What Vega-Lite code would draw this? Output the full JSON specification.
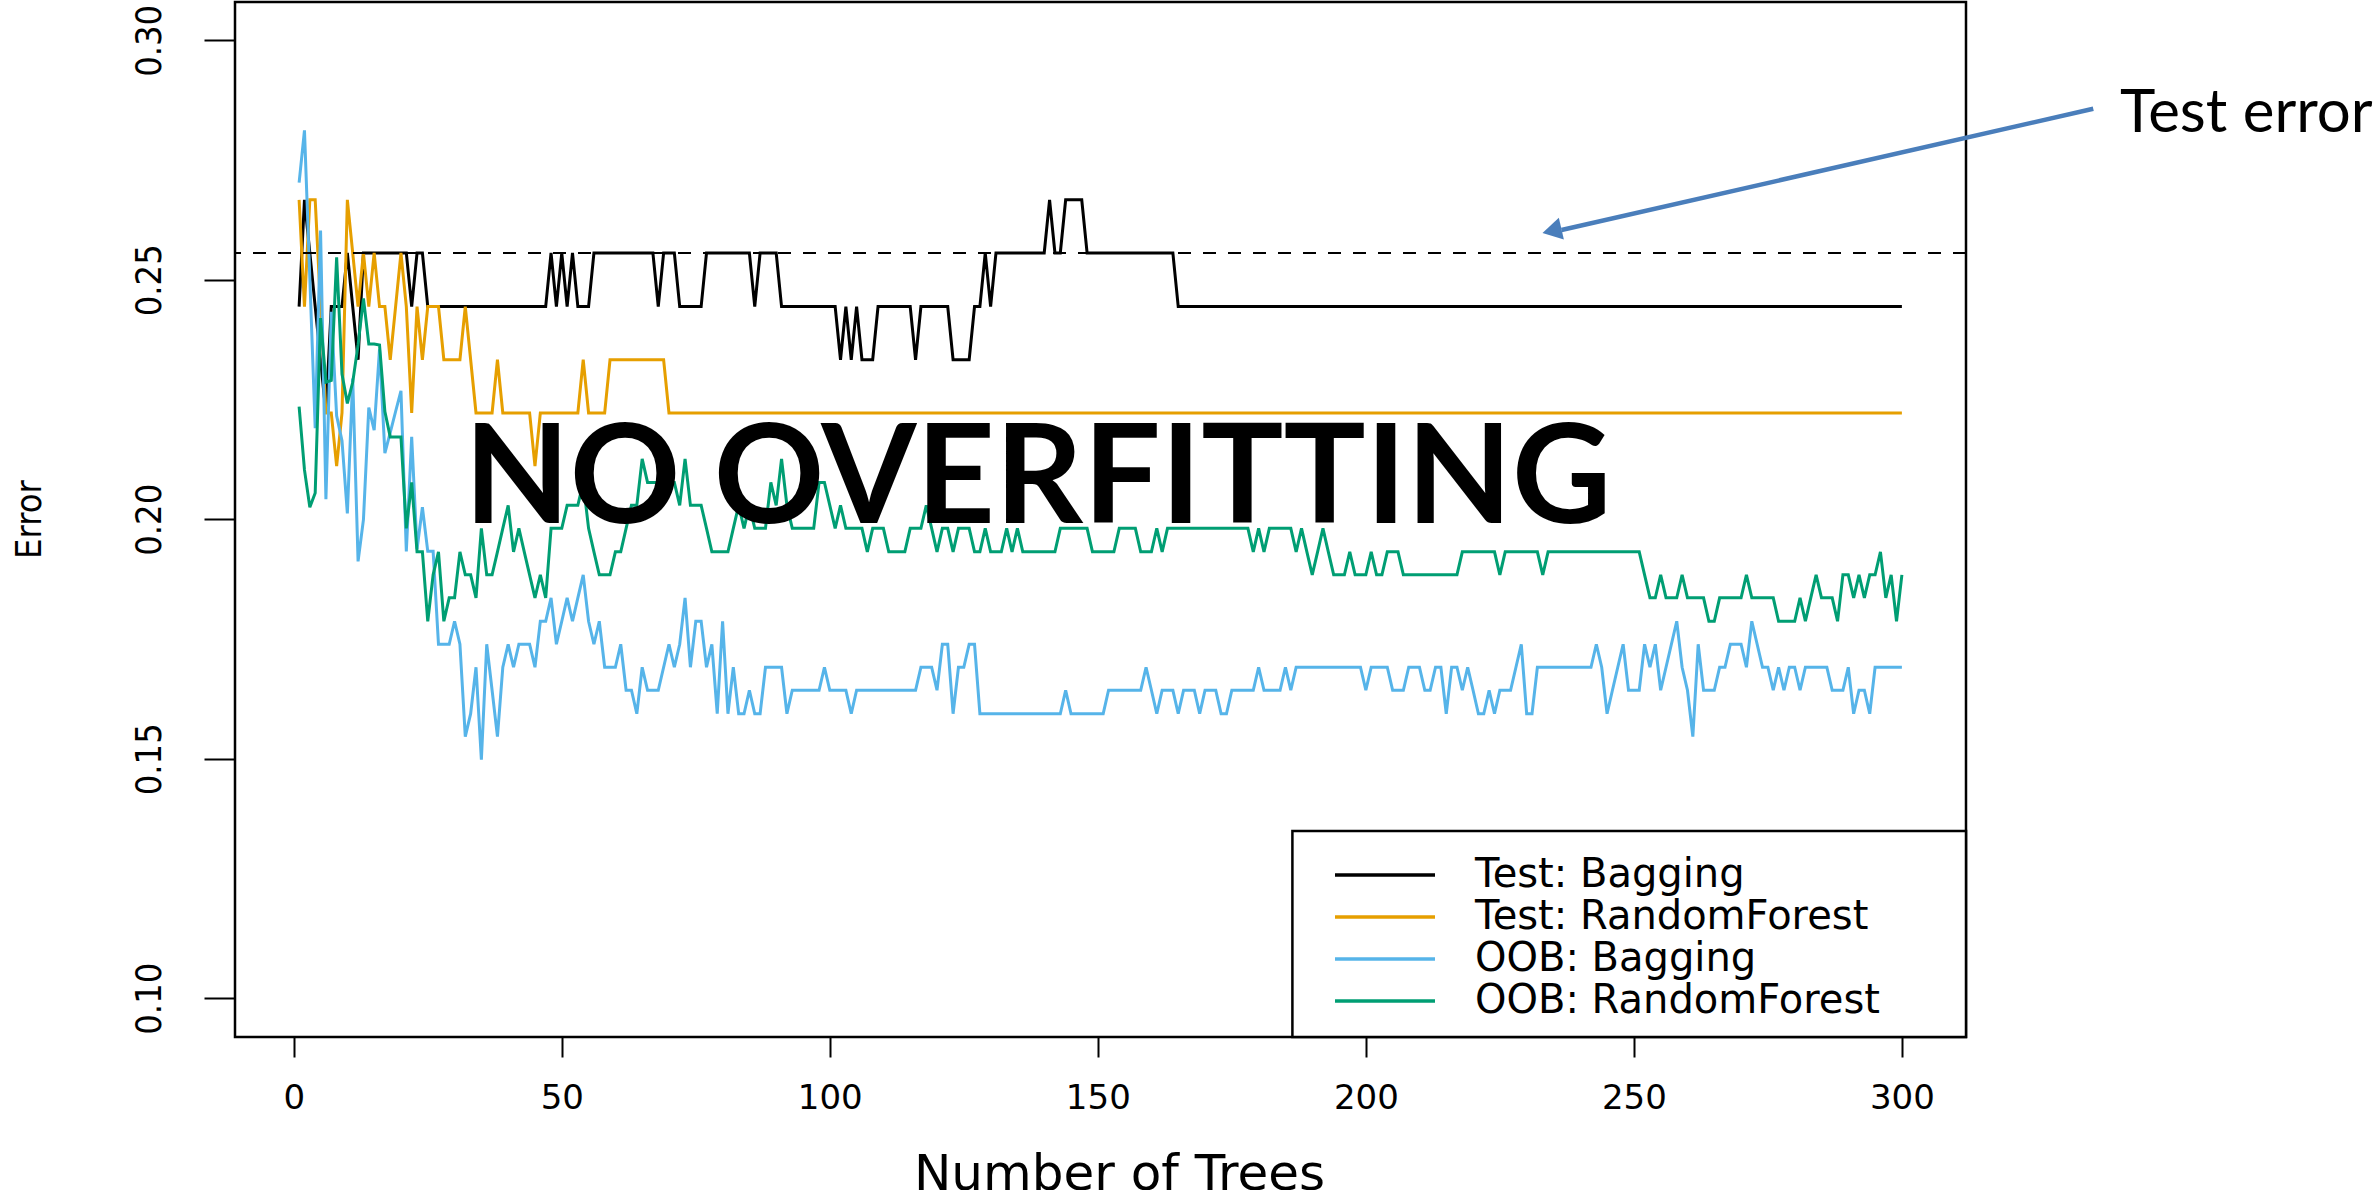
{
  "$schema": "https://vega.github.io/schema/vega-lite/v6.json",
  "width": 1731,
  "height": 1035,
  "autosize": "none",
  "padding": {"left": 235, "top": 2, "right": 413, "bottom": 153},
  "background": "white",
  "config": {
    "font": "DejaVu Sans",
    "view": {"stroke": "black", "strokeWidth": 2.5}
  },
  "datasets": {
    "arrow": [
      {"trees": 335.7, "error": 0.2857},
      {"trees": 236.5, "error": 0.2604}
    ],
    "errors": [
      {"trees":1,"test_bag":0.2444,"test_rf":0.2667,"oob_bag":0.2703,"oob_rf":0.2235},
      {"trees":2,"test_bag":0.2667,"test_rf":0.2444,"oob_bag":0.2812,"oob_rf":0.2103},
      {"trees":3,"test_bag":0.2556,"test_rf":0.2667,"oob_bag":0.2503,"oob_rf":0.2025},
      {"trees":4,"test_bag":0.2444,"test_rf":0.2667,"oob_bag":0.2190,"oob_rf":0.2055},
      {"trees":5,"test_bag":0.2333,"test_rf":0.2444,"oob_bag":0.2603,"oob_rf":0.2420},
      {"trees":6,"test_bag":0.2222,"test_rf":0.2222,"oob_bag":0.2042,"oob_rf":0.2286},
      {"trees":7,"test_bag":0.2444,"test_rf":0.2222,"oob_bag":0.2433,"oob_rf":0.2290},
      {"trees":8,"test_bag":0.2444,"test_rf":0.2111,"oob_bag":0.2216,"oob_rf":0.2547},
      {"trees":9,"test_bag":0.2444,"test_rf":0.2222,"oob_bag":0.2164,"oob_rf":0.2303},
      {"trees":10,"test_bag":0.2556,"test_rf":0.2667,"oob_bag":0.2012,"oob_rf":0.2242},
      {"trees":11,"test_bag":0.2444,"test_rf":0.2556,"oob_bag":0.2294,"oob_rf":0.2286},
      {"trees":12,"test_bag":0.2333,"test_rf":0.2444,"oob_bag":0.1912,"oob_rf":0.2364},
      {"trees":13,"test_bag":0.2556,"test_rf":0.2556,"oob_bag":0.1999,"oob_rf":0.2461},
      {"trees":14,"test_bag":0.2556,"test_rf":0.2444,"oob_bag":0.2233,"oob_rf":0.2366},
      {"trees":15,"test_bag":0.2556,"test_rf":0.2556,"oob_bag":0.2186,"oob_rf":0.2366},
      {"trees":16,"test_bag":0.2556,"test_rf":0.2444,"oob_bag":0.2355,"oob_rf":0.2364},
      {"trees":17,"test_bag":0.2556,"test_rf":0.2444,"oob_bag":0.2138,"oob_rf":0.2225},
      {"trees":18,"test_bag":0.2556,"test_rf":0.2333,"oob_bag":0.2181,"oob_rf":0.2172},
      {"trees":19,"test_bag":0.2556,"test_rf":0.2444,"oob_bag":0.2225,"oob_rf":0.2172},
      {"trees":20,"test_bag":0.2556,"test_rf":0.2556,"oob_bag":0.2268,"oob_rf":0.2172},
      {"trees":21,"test_bag":0.2556,"test_rf":0.2444,"oob_bag":0.1933,"oob_rf":0.1981},
      {"trees":22,"test_bag":0.2444,"test_rf":0.2222,"oob_bag":0.2172,"oob_rf":0.2077},
      {"trees":23,"test_bag":0.2556,"test_rf":0.2444,"oob_bag":0.1938,"oob_rf":0.1932},
      {"trees":24,"test_bag":0.2556,"test_rf":0.2333,"oob_bag":0.2025,"oob_rf":0.1932},
      {"trees":25,"test_bag":0.2444,"test_rf":0.2444,"oob_bag":0.1933,"oob_rf":0.1787},
      {"trees":26,"test_bag":0.2444,"test_rf":0.2444,"oob_bag":0.1933,"oob_rf":0.1884},
      {"trees":27,"test_bag":0.2444,"test_rf":0.2444,"oob_bag":0.1739,"oob_rf":0.1932},
      {"trees":28,"test_bag":0.2444,"test_rf":0.2333,"oob_bag":0.1739,"oob_rf":0.1787},
      {"trees":29,"test_bag":0.2444,"test_rf":0.2333,"oob_bag":0.1739,"oob_rf":0.1836},
      {"trees":30,"test_bag":0.2444,"test_rf":0.2333,"oob_bag":0.1787,"oob_rf":0.1836},
      {"trees":31,"test_bag":0.2444,"test_rf":0.2333,"oob_bag":0.1739,"oob_rf":0.1932},
      {"trees":32,"test_bag":0.2444,"test_rf":0.2444,"oob_bag":0.1546,"oob_rf":0.1884},
      {"trees":33,"test_bag":0.2444,"test_rf":0.2333,"oob_bag":0.1594,"oob_rf":0.1884},
      {"trees":34,"test_bag":0.2444,"test_rf":0.2222,"oob_bag":0.1691,"oob_rf":0.1836},
      {"trees":35,"test_bag":0.2444,"test_rf":0.2222,"oob_bag":0.1498,"oob_rf":0.1981},
      {"trees":36,"test_bag":0.2444,"test_rf":0.2222,"oob_bag":0.1739,"oob_rf":0.1884},
      {"trees":37,"test_bag":0.2444,"test_rf":0.2222,"oob_bag":0.1643,"oob_rf":0.1884},
      {"trees":38,"test_bag":0.2444,"test_rf":0.2333,"oob_bag":0.1546,"oob_rf":0.1932},
      {"trees":39,"test_bag":0.2444,"test_rf":0.2222,"oob_bag":0.1691,"oob_rf":0.1981},
      {"trees":40,"test_bag":0.2444,"test_rf":0.2222,"oob_bag":0.1739,"oob_rf":0.2029},
      {"trees":41,"test_bag":0.2444,"test_rf":0.2222,"oob_bag":0.1691,"oob_rf":0.1932},
      {"trees":42,"test_bag":0.2444,"test_rf":0.2222,"oob_bag":0.1739,"oob_rf":0.1981},
      {"trees":43,"test_bag":0.2444,"test_rf":0.2222,"oob_bag":0.1739,"oob_rf":0.1932},
      {"trees":44,"test_bag":0.2444,"test_rf":0.2222,"oob_bag":0.1739,"oob_rf":0.1884},
      {"trees":45,"test_bag":0.2444,"test_rf":0.2111,"oob_bag":0.1691,"oob_rf":0.1836},
      {"trees":46,"test_bag":0.2444,"test_rf":0.2222,"oob_bag":0.1787,"oob_rf":0.1884},
      {"trees":47,"test_bag":0.2444,"test_rf":0.2222,"oob_bag":0.1787,"oob_rf":0.1836},
      {"trees":48,"test_bag":0.2556,"test_rf":0.2222,"oob_bag":0.1836,"oob_rf":0.1981},
      {"trees":49,"test_bag":0.2444,"test_rf":0.2222,"oob_bag":0.1739,"oob_rf":0.1981},
      {"trees":50,"test_bag":0.2556,"test_rf":0.2222,"oob_bag":0.1787,"oob_rf":0.1981},
      {"trees":51,"test_bag":0.2444,"test_rf":0.2222,"oob_bag":0.1836,"oob_rf":0.2029},
      {"trees":52,"test_bag":0.2556,"test_rf":0.2222,"oob_bag":0.1787,"oob_rf":0.2029},
      {"trees":53,"test_bag":0.2444,"test_rf":0.2222,"oob_bag":0.1836,"oob_rf":0.2029},
      {"trees":54,"test_bag":0.2444,"test_rf":0.2333,"oob_bag":0.1884,"oob_rf":0.2077},
      {"trees":55,"test_bag":0.2444,"test_rf":0.2222,"oob_bag":0.1787,"oob_rf":0.1981},
      {"trees":56,"test_bag":0.2556,"test_rf":0.2222,"oob_bag":0.1739,"oob_rf":0.1932},
      {"trees":57,"test_bag":0.2556,"test_rf":0.2222,"oob_bag":0.1787,"oob_rf":0.1884},
      {"trees":58,"test_bag":0.2556,"test_rf":0.2222,"oob_bag":0.1691,"oob_rf":0.1884},
      {"trees":59,"test_bag":0.2556,"test_rf":0.2333,"oob_bag":0.1691,"oob_rf":0.1884},
      {"trees":60,"test_bag":0.2556,"test_rf":0.2333,"oob_bag":0.1691,"oob_rf":0.1932},
      {"trees":61,"test_bag":0.2556,"test_rf":0.2333,"oob_bag":0.1739,"oob_rf":0.1932},
      {"trees":62,"test_bag":0.2556,"test_rf":0.2333,"oob_bag":0.1643,"oob_rf":0.1981},
      {"trees":63,"test_bag":0.2556,"test_rf":0.2333,"oob_bag":0.1643,"oob_rf":0.2029},
      {"trees":64,"test_bag":0.2556,"test_rf":0.2333,"oob_bag":0.1594,"oob_rf":0.2029},
      {"trees":65,"test_bag":0.2556,"test_rf":0.2333,"oob_bag":0.1691,"oob_rf":0.2126},
      {"trees":66,"test_bag":0.2556,"test_rf":0.2333,"oob_bag":0.1643,"oob_rf":0.2077},
      {"trees":67,"test_bag":0.2556,"test_rf":0.2333,"oob_bag":0.1643,"oob_rf":0.2077},
      {"trees":68,"test_bag":0.2444,"test_rf":0.2333,"oob_bag":0.1643,"oob_rf":0.2077},
      {"trees":69,"test_bag":0.2556,"test_rf":0.2333,"oob_bag":0.1691,"oob_rf":0.2077},
      {"trees":70,"test_bag":0.2556,"test_rf":0.2222,"oob_bag":0.1739,"oob_rf":0.2077},
      {"trees":71,"test_bag":0.2556,"test_rf":0.2222,"oob_bag":0.1691,"oob_rf":0.2077},
      {"trees":72,"test_bag":0.2444,"test_rf":0.2222,"oob_bag":0.1739,"oob_rf":0.2029},
      {"trees":73,"test_bag":0.2444,"test_rf":0.2222,"oob_bag":0.1836,"oob_rf":0.2126},
      {"trees":74,"test_bag":0.2444,"test_rf":0.2222,"oob_bag":0.1691,"oob_rf":0.2029},
      {"trees":75,"test_bag":0.2444,"test_rf":0.2222,"oob_bag":0.1787,"oob_rf":0.2029},
      {"trees":76,"test_bag":0.2444,"test_rf":0.2222,"oob_bag":0.1787,"oob_rf":0.2029},
      {"trees":77,"test_bag":0.2556,"test_rf":0.2222,"oob_bag":0.1691,"oob_rf":0.1981},
      {"trees":78,"test_bag":0.2556,"test_rf":0.2222,"oob_bag":0.1739,"oob_rf":0.1932},
      {"trees":79,"test_bag":0.2556,"test_rf":0.2222,"oob_bag":0.1594,"oob_rf":0.1932},
      {"trees":80,"test_bag":0.2556,"test_rf":0.2222,"oob_bag":0.1787,"oob_rf":0.1932},
      {"trees":81,"test_bag":0.2556,"test_rf":0.2222,"oob_bag":0.1594,"oob_rf":0.1932},
      {"trees":82,"test_bag":0.2556,"test_rf":0.2222,"oob_bag":0.1691,"oob_rf":0.1981},
      {"trees":83,"test_bag":0.2556,"test_rf":0.2222,"oob_bag":0.1594,"oob_rf":0.2029},
      {"trees":84,"test_bag":0.2556,"test_rf":0.2222,"oob_bag":0.1594,"oob_rf":0.1981},
      {"trees":85,"test_bag":0.2556,"test_rf":0.2222,"oob_bag":0.1643,"oob_rf":0.2029},
      {"trees":86,"test_bag":0.2444,"test_rf":0.2222,"oob_bag":0.1594,"oob_rf":0.1981},
      {"trees":87,"test_bag":0.2556,"test_rf":0.2222,"oob_bag":0.1594,"oob_rf":0.1981},
      {"trees":88,"test_bag":0.2556,"test_rf":0.2222,"oob_bag":0.1691,"oob_rf":0.1981},
      {"trees":89,"test_bag":0.2556,"test_rf":0.2222,"oob_bag":0.1691,"oob_rf":0.2077},
      {"trees":90,"test_bag":0.2556,"test_rf":0.2222,"oob_bag":0.1691,"oob_rf":0.2029},
      {"trees":91,"test_bag":0.2444,"test_rf":0.2222,"oob_bag":0.1691,"oob_rf":0.2126},
      {"trees":92,"test_bag":0.2444,"test_rf":0.2222,"oob_bag":0.1594,"oob_rf":0.2029},
      {"trees":93,"test_bag":0.2444,"test_rf":0.2222,"oob_bag":0.1643,"oob_rf":0.1981},
      {"trees":94,"test_bag":0.2444,"test_rf":0.2222,"oob_bag":0.1643,"oob_rf":0.1981},
      {"trees":95,"test_bag":0.2444,"test_rf":0.2222,"oob_bag":0.1643,"oob_rf":0.1981},
      {"trees":96,"test_bag":0.2444,"test_rf":0.2222,"oob_bag":0.1643,"oob_rf":0.1981},
      {"trees":97,"test_bag":0.2444,"test_rf":0.2222,"oob_bag":0.1643,"oob_rf":0.1981},
      {"trees":98,"test_bag":0.2444,"test_rf":0.2222,"oob_bag":0.1643,"oob_rf":0.2077},
      {"trees":99,"test_bag":0.2444,"test_rf":0.2222,"oob_bag":0.1691,"oob_rf":0.2077},
      {"trees":100,"test_bag":0.2444,"test_rf":0.2222,"oob_bag":0.1643,"oob_rf":0.2029},
      {"trees":101,"test_bag":0.2444,"test_rf":0.2222,"oob_bag":0.1643,"oob_rf":0.1981},
      {"trees":102,"test_bag":0.2333,"test_rf":0.2222,"oob_bag":0.1643,"oob_rf":0.2029},
      {"trees":103,"test_bag":0.2444,"test_rf":0.2222,"oob_bag":0.1643,"oob_rf":0.1981},
      {"trees":104,"test_bag":0.2333,"test_rf":0.2222,"oob_bag":0.1594,"oob_rf":0.1981},
      {"trees":105,"test_bag":0.2444,"test_rf":0.2222,"oob_bag":0.1643,"oob_rf":0.1981},
      {"trees":106,"test_bag":0.2333,"test_rf":0.2222,"oob_bag":0.1643,"oob_rf":0.1981},
      {"trees":107,"test_bag":0.2333,"test_rf":0.2222,"oob_bag":0.1643,"oob_rf":0.1932},
      {"trees":108,"test_bag":0.2333,"test_rf":0.2222,"oob_bag":0.1643,"oob_rf":0.1981},
      {"trees":109,"test_bag":0.2444,"test_rf":0.2222,"oob_bag":0.1643,"oob_rf":0.1981},
      {"trees":110,"test_bag":0.2444,"test_rf":0.2222,"oob_bag":0.1643,"oob_rf":0.1981},
      {"trees":111,"test_bag":0.2444,"test_rf":0.2222,"oob_bag":0.1643,"oob_rf":0.1932},
      {"trees":112,"test_bag":0.2444,"test_rf":0.2222,"oob_bag":0.1643,"oob_rf":0.1932},
      {"trees":113,"test_bag":0.2444,"test_rf":0.2222,"oob_bag":0.1643,"oob_rf":0.1932},
      {"trees":114,"test_bag":0.2444,"test_rf":0.2222,"oob_bag":0.1643,"oob_rf":0.1932},
      {"trees":115,"test_bag":0.2444,"test_rf":0.2222,"oob_bag":0.1643,"oob_rf":0.1981},
      {"trees":116,"test_bag":0.2333,"test_rf":0.2222,"oob_bag":0.1643,"oob_rf":0.1981},
      {"trees":117,"test_bag":0.2444,"test_rf":0.2222,"oob_bag":0.1691,"oob_rf":0.1981},
      {"trees":118,"test_bag":0.2444,"test_rf":0.2222,"oob_bag":0.1691,"oob_rf":0.2029},
      {"trees":119,"test_bag":0.2444,"test_rf":0.2222,"oob_bag":0.1691,"oob_rf":0.1981},
      {"trees":120,"test_bag":0.2444,"test_rf":0.2222,"oob_bag":0.1643,"oob_rf":0.1932},
      {"trees":121,"test_bag":0.2444,"test_rf":0.2222,"oob_bag":0.1739,"oob_rf":0.1981},
      {"trees":122,"test_bag":0.2444,"test_rf":0.2222,"oob_bag":0.1739,"oob_rf":0.1981},
      {"trees":123,"test_bag":0.2333,"test_rf":0.2222,"oob_bag":0.1594,"oob_rf":0.1932},
      {"trees":124,"test_bag":0.2333,"test_rf":0.2222,"oob_bag":0.1691,"oob_rf":0.1981},
      {"trees":125,"test_bag":0.2333,"test_rf":0.2222,"oob_bag":0.1691,"oob_rf":0.1981},
      {"trees":126,"test_bag":0.2333,"test_rf":0.2222,"oob_bag":0.1739,"oob_rf":0.1981},
      {"trees":127,"test_bag":0.2444,"test_rf":0.2222,"oob_bag":0.1739,"oob_rf":0.1932},
      {"trees":128,"test_bag":0.2444,"test_rf":0.2222,"oob_bag":0.1594,"oob_rf":0.1932},
      {"trees":129,"test_bag":0.2556,"test_rf":0.2222,"oob_bag":0.1594,"oob_rf":0.1981},
      {"trees":130,"test_bag":0.2444,"test_rf":0.2222,"oob_bag":0.1594,"oob_rf":0.1932},
      {"trees":131,"test_bag":0.2556,"test_rf":0.2222,"oob_bag":0.1594,"oob_rf":0.1932},
      {"trees":132,"test_bag":0.2556,"test_rf":0.2222,"oob_bag":0.1594,"oob_rf":0.1932},
      {"trees":133,"test_bag":0.2556,"test_rf":0.2222,"oob_bag":0.1594,"oob_rf":0.1981},
      {"trees":134,"test_bag":0.2556,"test_rf":0.2222,"oob_bag":0.1594,"oob_rf":0.1932},
      {"trees":135,"test_bag":0.2556,"test_rf":0.2222,"oob_bag":0.1594,"oob_rf":0.1981},
      {"trees":136,"test_bag":0.2556,"test_rf":0.2222,"oob_bag":0.1594,"oob_rf":0.1932},
      {"trees":137,"test_bag":0.2556,"test_rf":0.2222,"oob_bag":0.1594,"oob_rf":0.1932},
      {"trees":138,"test_bag":0.2556,"test_rf":0.2222,"oob_bag":0.1594,"oob_rf":0.1932},
      {"trees":139,"test_bag":0.2556,"test_rf":0.2222,"oob_bag":0.1594,"oob_rf":0.1932},
      {"trees":140,"test_bag":0.2556,"test_rf":0.2222,"oob_bag":0.1594,"oob_rf":0.1932},
      {"trees":141,"test_bag":0.2667,"test_rf":0.2222,"oob_bag":0.1594,"oob_rf":0.1932},
      {"trees":142,"test_bag":0.2556,"test_rf":0.2222,"oob_bag":0.1594,"oob_rf":0.1932},
      {"trees":143,"test_bag":0.2556,"test_rf":0.2222,"oob_bag":0.1594,"oob_rf":0.1981},
      {"trees":144,"test_bag":0.2667,"test_rf":0.2222,"oob_bag":0.1643,"oob_rf":0.1981},
      {"trees":145,"test_bag":0.2667,"test_rf":0.2222,"oob_bag":0.1594,"oob_rf":0.1981},
      {"trees":146,"test_bag":0.2667,"test_rf":0.2222,"oob_bag":0.1594,"oob_rf":0.1981},
      {"trees":147,"test_bag":0.2667,"test_rf":0.2222,"oob_bag":0.1594,"oob_rf":0.1981},
      {"trees":148,"test_bag":0.2556,"test_rf":0.2222,"oob_bag":0.1594,"oob_rf":0.1981},
      {"trees":149,"test_bag":0.2556,"test_rf":0.2222,"oob_bag":0.1594,"oob_rf":0.1932},
      {"trees":150,"test_bag":0.2556,"test_rf":0.2222,"oob_bag":0.1594,"oob_rf":0.1932},
      {"trees":151,"test_bag":0.2556,"test_rf":0.2222,"oob_bag":0.1594,"oob_rf":0.1932},
      {"trees":152,"test_bag":0.2556,"test_rf":0.2222,"oob_bag":0.1643,"oob_rf":0.1932},
      {"trees":153,"test_bag":0.2556,"test_rf":0.2222,"oob_bag":0.1643,"oob_rf":0.1932},
      {"trees":154,"test_bag":0.2556,"test_rf":0.2222,"oob_bag":0.1643,"oob_rf":0.1981},
      {"trees":155,"test_bag":0.2556,"test_rf":0.2222,"oob_bag":0.1643,"oob_rf":0.1981},
      {"trees":156,"test_bag":0.2556,"test_rf":0.2222,"oob_bag":0.1643,"oob_rf":0.1981},
      {"trees":157,"test_bag":0.2556,"test_rf":0.2222,"oob_bag":0.1643,"oob_rf":0.1981},
      {"trees":158,"test_bag":0.2556,"test_rf":0.2222,"oob_bag":0.1643,"oob_rf":0.1932},
      {"trees":159,"test_bag":0.2556,"test_rf":0.2222,"oob_bag":0.1691,"oob_rf":0.1932},
      {"trees":160,"test_bag":0.2556,"test_rf":0.2222,"oob_bag":0.1643,"oob_rf":0.1932},
      {"trees":161,"test_bag":0.2556,"test_rf":0.2222,"oob_bag":0.1594,"oob_rf":0.1981},
      {"trees":162,"test_bag":0.2556,"test_rf":0.2222,"oob_bag":0.1643,"oob_rf":0.1932},
      {"trees":163,"test_bag":0.2556,"test_rf":0.2222,"oob_bag":0.1643,"oob_rf":0.1981},
      {"trees":164,"test_bag":0.2556,"test_rf":0.2222,"oob_bag":0.1643,"oob_rf":0.1981},
      {"trees":165,"test_bag":0.2444,"test_rf":0.2222,"oob_bag":0.1594,"oob_rf":0.1981},
      {"trees":166,"test_bag":0.2444,"test_rf":0.2222,"oob_bag":0.1643,"oob_rf":0.1981},
      {"trees":167,"test_bag":0.2444,"test_rf":0.2222,"oob_bag":0.1643,"oob_rf":0.1981},
      {"trees":168,"test_bag":0.2444,"test_rf":0.2222,"oob_bag":0.1643,"oob_rf":0.1981},
      {"trees":169,"test_bag":0.2444,"test_rf":0.2222,"oob_bag":0.1594,"oob_rf":0.1981},
      {"trees":170,"test_bag":0.2444,"test_rf":0.2222,"oob_bag":0.1643,"oob_rf":0.1981},
      {"trees":171,"test_bag":0.2444,"test_rf":0.2222,"oob_bag":0.1643,"oob_rf":0.1981},
      {"trees":172,"test_bag":0.2444,"test_rf":0.2222,"oob_bag":0.1643,"oob_rf":0.1981},
      {"trees":173,"test_bag":0.2444,"test_rf":0.2222,"oob_bag":0.1594,"oob_rf":0.1981},
      {"trees":174,"test_bag":0.2444,"test_rf":0.2222,"oob_bag":0.1594,"oob_rf":0.1981},
      {"trees":175,"test_bag":0.2444,"test_rf":0.2222,"oob_bag":0.1643,"oob_rf":0.1981},
      {"trees":176,"test_bag":0.2444,"test_rf":0.2222,"oob_bag":0.1643,"oob_rf":0.1981},
      {"trees":177,"test_bag":0.2444,"test_rf":0.2222,"oob_bag":0.1643,"oob_rf":0.1981},
      {"trees":178,"test_bag":0.2444,"test_rf":0.2222,"oob_bag":0.1643,"oob_rf":0.1981},
      {"trees":179,"test_bag":0.2444,"test_rf":0.2222,"oob_bag":0.1643,"oob_rf":0.1932},
      {"trees":180,"test_bag":0.2444,"test_rf":0.2222,"oob_bag":0.1691,"oob_rf":0.1981},
      {"trees":181,"test_bag":0.2444,"test_rf":0.2222,"oob_bag":0.1643,"oob_rf":0.1932},
      {"trees":182,"test_bag":0.2444,"test_rf":0.2222,"oob_bag":0.1643,"oob_rf":0.1981},
      {"trees":183,"test_bag":0.2444,"test_rf":0.2222,"oob_bag":0.1643,"oob_rf":0.1981},
      {"trees":184,"test_bag":0.2444,"test_rf":0.2222,"oob_bag":0.1643,"oob_rf":0.1981},
      {"trees":185,"test_bag":0.2444,"test_rf":0.2222,"oob_bag":0.1691,"oob_rf":0.1981},
      {"trees":186,"test_bag":0.2444,"test_rf":0.2222,"oob_bag":0.1643,"oob_rf":0.1981},
      {"trees":187,"test_bag":0.2444,"test_rf":0.2222,"oob_bag":0.1691,"oob_rf":0.1932},
      {"trees":188,"test_bag":0.2444,"test_rf":0.2222,"oob_bag":0.1691,"oob_rf":0.1981},
      {"trees":189,"test_bag":0.2444,"test_rf":0.2222,"oob_bag":0.1691,"oob_rf":0.1932},
      {"trees":190,"test_bag":0.2444,"test_rf":0.2222,"oob_bag":0.1691,"oob_rf":0.1884},
      {"trees":191,"test_bag":0.2444,"test_rf":0.2222,"oob_bag":0.1691,"oob_rf":0.1932},
      {"trees":192,"test_bag":0.2444,"test_rf":0.2222,"oob_bag":0.1691,"oob_rf":0.1981},
      {"trees":193,"test_bag":0.2444,"test_rf":0.2222,"oob_bag":0.1691,"oob_rf":0.1932},
      {"trees":194,"test_bag":0.2444,"test_rf":0.2222,"oob_bag":0.1691,"oob_rf":0.1884},
      {"trees":195,"test_bag":0.2444,"test_rf":0.2222,"oob_bag":0.1691,"oob_rf":0.1884},
      {"trees":196,"test_bag":0.2444,"test_rf":0.2222,"oob_bag":0.1691,"oob_rf":0.1884},
      {"trees":197,"test_bag":0.2444,"test_rf":0.2222,"oob_bag":0.1691,"oob_rf":0.1932},
      {"trees":198,"test_bag":0.2444,"test_rf":0.2222,"oob_bag":0.1691,"oob_rf":0.1884},
      {"trees":199,"test_bag":0.2444,"test_rf":0.2222,"oob_bag":0.1691,"oob_rf":0.1884},
      {"trees":200,"test_bag":0.2444,"test_rf":0.2222,"oob_bag":0.1643,"oob_rf":0.1884},
      {"trees":201,"test_bag":0.2444,"test_rf":0.2222,"oob_bag":0.1691,"oob_rf":0.1932},
      {"trees":202,"test_bag":0.2444,"test_rf":0.2222,"oob_bag":0.1691,"oob_rf":0.1884},
      {"trees":203,"test_bag":0.2444,"test_rf":0.2222,"oob_bag":0.1691,"oob_rf":0.1884},
      {"trees":204,"test_bag":0.2444,"test_rf":0.2222,"oob_bag":0.1691,"oob_rf":0.1932},
      {"trees":205,"test_bag":0.2444,"test_rf":0.2222,"oob_bag":0.1643,"oob_rf":0.1932},
      {"trees":206,"test_bag":0.2444,"test_rf":0.2222,"oob_bag":0.1643,"oob_rf":0.1932},
      {"trees":207,"test_bag":0.2444,"test_rf":0.2222,"oob_bag":0.1643,"oob_rf":0.1884},
      {"trees":208,"test_bag":0.2444,"test_rf":0.2222,"oob_bag":0.1691,"oob_rf":0.1884},
      {"trees":209,"test_bag":0.2444,"test_rf":0.2222,"oob_bag":0.1691,"oob_rf":0.1884},
      {"trees":210,"test_bag":0.2444,"test_rf":0.2222,"oob_bag":0.1691,"oob_rf":0.1884},
      {"trees":211,"test_bag":0.2444,"test_rf":0.2222,"oob_bag":0.1643,"oob_rf":0.1884},
      {"trees":212,"test_bag":0.2444,"test_rf":0.2222,"oob_bag":0.1643,"oob_rf":0.1884},
      {"trees":213,"test_bag":0.2444,"test_rf":0.2222,"oob_bag":0.1691,"oob_rf":0.1884},
      {"trees":214,"test_bag":0.2444,"test_rf":0.2222,"oob_bag":0.1691,"oob_rf":0.1884},
      {"trees":215,"test_bag":0.2444,"test_rf":0.2222,"oob_bag":0.1594,"oob_rf":0.1884},
      {"trees":216,"test_bag":0.2444,"test_rf":0.2222,"oob_bag":0.1691,"oob_rf":0.1884},
      {"trees":217,"test_bag":0.2444,"test_rf":0.2222,"oob_bag":0.1691,"oob_rf":0.1884},
      {"trees":218,"test_bag":0.2444,"test_rf":0.2222,"oob_bag":0.1643,"oob_rf":0.1932},
      {"trees":219,"test_bag":0.2444,"test_rf":0.2222,"oob_bag":0.1691,"oob_rf":0.1932},
      {"trees":220,"test_bag":0.2444,"test_rf":0.2222,"oob_bag":0.1643,"oob_rf":0.1932},
      {"trees":221,"test_bag":0.2444,"test_rf":0.2222,"oob_bag":0.1594,"oob_rf":0.1932},
      {"trees":222,"test_bag":0.2444,"test_rf":0.2222,"oob_bag":0.1594,"oob_rf":0.1932},
      {"trees":223,"test_bag":0.2444,"test_rf":0.2222,"oob_bag":0.1643,"oob_rf":0.1932},
      {"trees":224,"test_bag":0.2444,"test_rf":0.2222,"oob_bag":0.1594,"oob_rf":0.1932},
      {"trees":225,"test_bag":0.2444,"test_rf":0.2222,"oob_bag":0.1643,"oob_rf":0.1884},
      {"trees":226,"test_bag":0.2444,"test_rf":0.2222,"oob_bag":0.1643,"oob_rf":0.1932},
      {"trees":227,"test_bag":0.2444,"test_rf":0.2222,"oob_bag":0.1643,"oob_rf":0.1932},
      {"trees":228,"test_bag":0.2444,"test_rf":0.2222,"oob_bag":0.1691,"oob_rf":0.1932},
      {"trees":229,"test_bag":0.2444,"test_rf":0.2222,"oob_bag":0.1739,"oob_rf":0.1932},
      {"trees":230,"test_bag":0.2444,"test_rf":0.2222,"oob_bag":0.1594,"oob_rf":0.1932},
      {"trees":231,"test_bag":0.2444,"test_rf":0.2222,"oob_bag":0.1594,"oob_rf":0.1932},
      {"trees":232,"test_bag":0.2444,"test_rf":0.2222,"oob_bag":0.1691,"oob_rf":0.1932},
      {"trees":233,"test_bag":0.2444,"test_rf":0.2222,"oob_bag":0.1691,"oob_rf":0.1884},
      {"trees":234,"test_bag":0.2444,"test_rf":0.2222,"oob_bag":0.1691,"oob_rf":0.1932},
      {"trees":235,"test_bag":0.2444,"test_rf":0.2222,"oob_bag":0.1691,"oob_rf":0.1932},
      {"trees":236,"test_bag":0.2444,"test_rf":0.2222,"oob_bag":0.1691,"oob_rf":0.1932},
      {"trees":237,"test_bag":0.2444,"test_rf":0.2222,"oob_bag":0.1691,"oob_rf":0.1932},
      {"trees":238,"test_bag":0.2444,"test_rf":0.2222,"oob_bag":0.1691,"oob_rf":0.1932},
      {"trees":239,"test_bag":0.2444,"test_rf":0.2222,"oob_bag":0.1691,"oob_rf":0.1932},
      {"trees":240,"test_bag":0.2444,"test_rf":0.2222,"oob_bag":0.1691,"oob_rf":0.1932},
      {"trees":241,"test_bag":0.2444,"test_rf":0.2222,"oob_bag":0.1691,"oob_rf":0.1932},
      {"trees":242,"test_bag":0.2444,"test_rf":0.2222,"oob_bag":0.1691,"oob_rf":0.1932},
      {"trees":243,"test_bag":0.2444,"test_rf":0.2222,"oob_bag":0.1739,"oob_rf":0.1932},
      {"trees":244,"test_bag":0.2444,"test_rf":0.2222,"oob_bag":0.1691,"oob_rf":0.1932},
      {"trees":245,"test_bag":0.2444,"test_rf":0.2222,"oob_bag":0.1594,"oob_rf":0.1932},
      {"trees":246,"test_bag":0.2444,"test_rf":0.2222,"oob_bag":0.1643,"oob_rf":0.1932},
      {"trees":247,"test_bag":0.2444,"test_rf":0.2222,"oob_bag":0.1691,"oob_rf":0.1932},
      {"trees":248,"test_bag":0.2444,"test_rf":0.2222,"oob_bag":0.1739,"oob_rf":0.1932},
      {"trees":249,"test_bag":0.2444,"test_rf":0.2222,"oob_bag":0.1643,"oob_rf":0.1932},
      {"trees":250,"test_bag":0.2444,"test_rf":0.2222,"oob_bag":0.1643,"oob_rf":0.1932},
      {"trees":251,"test_bag":0.2444,"test_rf":0.2222,"oob_bag":0.1643,"oob_rf":0.1932},
      {"trees":252,"test_bag":0.2444,"test_rf":0.2222,"oob_bag":0.1739,"oob_rf":0.1884},
      {"trees":253,"test_bag":0.2444,"test_rf":0.2222,"oob_bag":0.1691,"oob_rf":0.1836},
      {"trees":254,"test_bag":0.2444,"test_rf":0.2222,"oob_bag":0.1739,"oob_rf":0.1836},
      {"trees":255,"test_bag":0.2444,"test_rf":0.2222,"oob_bag":0.1643,"oob_rf":0.1884},
      {"trees":256,"test_bag":0.2444,"test_rf":0.2222,"oob_bag":0.1691,"oob_rf":0.1836},
      {"trees":257,"test_bag":0.2444,"test_rf":0.2222,"oob_bag":0.1739,"oob_rf":0.1836},
      {"trees":258,"test_bag":0.2444,"test_rf":0.2222,"oob_bag":0.1787,"oob_rf":0.1836},
      {"trees":259,"test_bag":0.2444,"test_rf":0.2222,"oob_bag":0.1691,"oob_rf":0.1884},
      {"trees":260,"test_bag":0.2444,"test_rf":0.2222,"oob_bag":0.1643,"oob_rf":0.1836},
      {"trees":261,"test_bag":0.2444,"test_rf":0.2222,"oob_bag":0.1546,"oob_rf":0.1836},
      {"trees":262,"test_bag":0.2444,"test_rf":0.2222,"oob_bag":0.1739,"oob_rf":0.1836},
      {"trees":263,"test_bag":0.2444,"test_rf":0.2222,"oob_bag":0.1643,"oob_rf":0.1836},
      {"trees":264,"test_bag":0.2444,"test_rf":0.2222,"oob_bag":0.1643,"oob_rf":0.1787},
      {"trees":265,"test_bag":0.2444,"test_rf":0.2222,"oob_bag":0.1643,"oob_rf":0.1787},
      {"trees":266,"test_bag":0.2444,"test_rf":0.2222,"oob_bag":0.1691,"oob_rf":0.1836},
      {"trees":267,"test_bag":0.2444,"test_rf":0.2222,"oob_bag":0.1691,"oob_rf":0.1836},
      {"trees":268,"test_bag":0.2444,"test_rf":0.2222,"oob_bag":0.1739,"oob_rf":0.1836},
      {"trees":269,"test_bag":0.2444,"test_rf":0.2222,"oob_bag":0.1739,"oob_rf":0.1836},
      {"trees":270,"test_bag":0.2444,"test_rf":0.2222,"oob_bag":0.1739,"oob_rf":0.1836},
      {"trees":271,"test_bag":0.2444,"test_rf":0.2222,"oob_bag":0.1691,"oob_rf":0.1884},
      {"trees":272,"test_bag":0.2444,"test_rf":0.2222,"oob_bag":0.1787,"oob_rf":0.1836},
      {"trees":273,"test_bag":0.2444,"test_rf":0.2222,"oob_bag":0.1739,"oob_rf":0.1836},
      {"trees":274,"test_bag":0.2444,"test_rf":0.2222,"oob_bag":0.1691,"oob_rf":0.1836},
      {"trees":275,"test_bag":0.2444,"test_rf":0.2222,"oob_bag":0.1691,"oob_rf":0.1836},
      {"trees":276,"test_bag":0.2444,"test_rf":0.2222,"oob_bag":0.1643,"oob_rf":0.1836},
      {"trees":277,"test_bag":0.2444,"test_rf":0.2222,"oob_bag":0.1691,"oob_rf":0.1787},
      {"trees":278,"test_bag":0.2444,"test_rf":0.2222,"oob_bag":0.1643,"oob_rf":0.1787},
      {"trees":279,"test_bag":0.2444,"test_rf":0.2222,"oob_bag":0.1691,"oob_rf":0.1787},
      {"trees":280,"test_bag":0.2444,"test_rf":0.2222,"oob_bag":0.1691,"oob_rf":0.1787},
      {"trees":281,"test_bag":0.2444,"test_rf":0.2222,"oob_bag":0.1643,"oob_rf":0.1836},
      {"trees":282,"test_bag":0.2444,"test_rf":0.2222,"oob_bag":0.1691,"oob_rf":0.1787},
      {"trees":283,"test_bag":0.2444,"test_rf":0.2222,"oob_bag":0.1691,"oob_rf":0.1836},
      {"trees":284,"test_bag":0.2444,"test_rf":0.2222,"oob_bag":0.1691,"oob_rf":0.1884},
      {"trees":285,"test_bag":0.2444,"test_rf":0.2222,"oob_bag":0.1691,"oob_rf":0.1836},
      {"trees":286,"test_bag":0.2444,"test_rf":0.2222,"oob_bag":0.1691,"oob_rf":0.1836},
      {"trees":287,"test_bag":0.2444,"test_rf":0.2222,"oob_bag":0.1643,"oob_rf":0.1836},
      {"trees":288,"test_bag":0.2444,"test_rf":0.2222,"oob_bag":0.1643,"oob_rf":0.1787},
      {"trees":289,"test_bag":0.2444,"test_rf":0.2222,"oob_bag":0.1643,"oob_rf":0.1884},
      {"trees":290,"test_bag":0.2444,"test_rf":0.2222,"oob_bag":0.1691,"oob_rf":0.1884},
      {"trees":291,"test_bag":0.2444,"test_rf":0.2222,"oob_bag":0.1594,"oob_rf":0.1836},
      {"trees":292,"test_bag":0.2444,"test_rf":0.2222,"oob_bag":0.1643,"oob_rf":0.1884},
      {"trees":293,"test_bag":0.2444,"test_rf":0.2222,"oob_bag":0.1643,"oob_rf":0.1836},
      {"trees":294,"test_bag":0.2444,"test_rf":0.2222,"oob_bag":0.1594,"oob_rf":0.1884},
      {"trees":295,"test_bag":0.2444,"test_rf":0.2222,"oob_bag":0.1691,"oob_rf":0.1884},
      {"trees":296,"test_bag":0.2444,"test_rf":0.2222,"oob_bag":0.1691,"oob_rf":0.1932},
      {"trees":297,"test_bag":0.2444,"test_rf":0.2222,"oob_bag":0.1691,"oob_rf":0.1836},
      {"trees":298,"test_bag":0.2444,"test_rf":0.2222,"oob_bag":0.1691,"oob_rf":0.1884},
      {"trees":299,"test_bag":0.2444,"test_rf":0.2222,"oob_bag":0.1691,"oob_rf":0.1787},
      {"trees":300,"test_bag":0.2444,"test_rf":0.2222,"oob_bag":0.1691,"oob_rf":0.1884}
    ]
  },
  "layer": [
    {
      "data": {"name": "errors"},
      "transform": [
        {"fold": ["test_bag", "test_rf", "oob_bag", "oob_rf"], "as": ["series", "error"]}
      ],
      "mark": {"type": "line", "strokeWidth": 3, "clip": true},
      "encoding": {
        "x": {
          "field": "trees",
          "type": "quantitative",
          "scale": {"domain": [-10.96, 311.96], "nice": false, "zero": false},
          "axis": {
            "values": [0, 50, 100, 150, 200, 250, 300],
            "domain": false,
            "grid": false,
            "tickSize": 20,
            "tickWidth": 2,
            "tickColor": "black",
            "labelFont": "DejaVu Sans",
            "labelFontSize": 34,
            "labelColor": "black",
            "labelPadding": 24,
            "title": "Number of Trees",
            "titleFont": "DejaVu Sans",
            "titleFontSize": 50,
            "titleFontWeight": "normal",
            "titleColor": "black",
            "titleAlign": "center",
            "titleBaseline": "alphabetic",
            "titleX": 884,
            "titleY": 152
          }
        },
        "y": {
          "field": "error",
          "type": "quantitative",
          "scale": {"domain": [0.0919, 0.308], "nice": false, "zero": false},
          "axis": {
            "values": [0.1, 0.15, 0.2, 0.25, 0.3],
            "format": ".2f",
            "domain": false,
            "grid": false,
            "tickSize": 31,
            "tickWidth": 2,
            "tickColor": "black",
            "labelAngle": -90,
            "labelAlign": "center",
            "labelBaseline": "bottom",
            "labelPadding": 36,
            "labelFont": "Liberation Sans Narrow, DejaVu Sans Condensed, Liberation Sans",
            "labelFontSize": 36,
            "labelColor": "black",
            "title": "Error",
            "titleFont": "Liberation Sans Narrow, DejaVu Sans Condensed, Liberation Sans",
            "titleFontSize": 36,
            "titleFontWeight": "normal",
            "titleColor": "black",
            "titleAngle": -90,
            "titleAlign": "center",
            "titleBaseline": "middle",
            "titleX": -206,
            "titleY": 517
          }
        },
        "color": {
          "field": "series",
          "type": "nominal",
          "scale": {
            "domain": ["test_bag", "test_rf", "oob_bag", "oob_rf"],
            "range": ["#000000", "#E69F00", "#56B4E9", "#009E73"]
          },
          "legend": {
            "orient": "none",
            "legendX": 1058,
            "legendY": 829,
            "title": null,
            "direction": "vertical",
            "padding": 22,
            "symbolType": "M-2.5,0H2.5",
            "symbolSize": 1600,
            "symbolStrokeWidth": 3.5,
            "symbolOffset": 48,
            "labelOffset": 68,
            "labelFont": "DejaVu Sans",
            "labelFontSize": 40,
            "labelLimit": 0,
            "labelColor": "black",
            "rowPadding": -4,
            "labelExpr": "datum.label == 'test_bag' ? 'Test: Bagging' : datum.label == 'test_rf' ? 'Test: RandomForest' : datum.label == 'oob_bag' ? 'OOB: Bagging' : 'OOB: RandomForest'"
          }
        }
      }
    },
    {
      "data": {"values": [{}]},
      "mark": {"type": "rect", "fill": "white", "stroke": "black", "strokeWidth": 2.5},
      "encoding": {
        "x": {"datum": 186.3, "type": "quantitative"},
        "x2": {"datum": 311.96},
        "y": {"datum": 0.1349, "type": "quantitative"},
        "y2": {"datum": 0.0919}
      }
    },
    {
      "data": {"values": [{}]},
      "mark": {"type": "rule", "color": "black", "strokeWidth": 2, "strokeDash": [13, 12]},
      "encoding": {"y": {"datum": 0.2556, "type": "quantitative"}}
    },
    {
      "data": {"values": [{}]},
      "mark": {"type": "text", "text": "NO OVERFITTING", "font": "Lato", "fontWeight": "bold", "fontSize": 137, "align": "center", "baseline": "alphabetic", "color": "black"},
      "encoding": {
        "x": {"datum": 138.8, "type": "quantitative"},
        "y": {"datum": 0.1992, "type": "quantitative"}
      }
    },
    {
      "data": {"name": "arrow"},
      "mark": {"type": "line", "color": "#4A7EBB", "strokeWidth": 4.5},
      "encoding": {
        "x": {"field": "trees", "type": "quantitative"},
        "y": {"field": "error", "type": "quantitative"}
      }
    },
    {
      "data": {"values": [{}]},
      "mark": {"type": "point", "shape": "triangle", "filled": true, "color": "#4A7EBB", "opacity": 1, "size": 500, "angle": 257},
      "encoding": {
        "x": {"datum": 235.3, "type": "quantitative"},
        "y": {"datum": 0.2604, "type": "quantitative"}
      }
    },
    {
      "data": {"values": [{}]},
      "mark": {"type": "text", "text": "Test error", "font": "Lato", "fontSize": 60, "align": "left", "baseline": "middle", "color": "black"},
      "encoding": {
        "x": {"datum": 340.7, "type": "quantitative"},
        "y": {"datum": 0.2846, "type": "quantitative"}
      }
    }
  ]
}
